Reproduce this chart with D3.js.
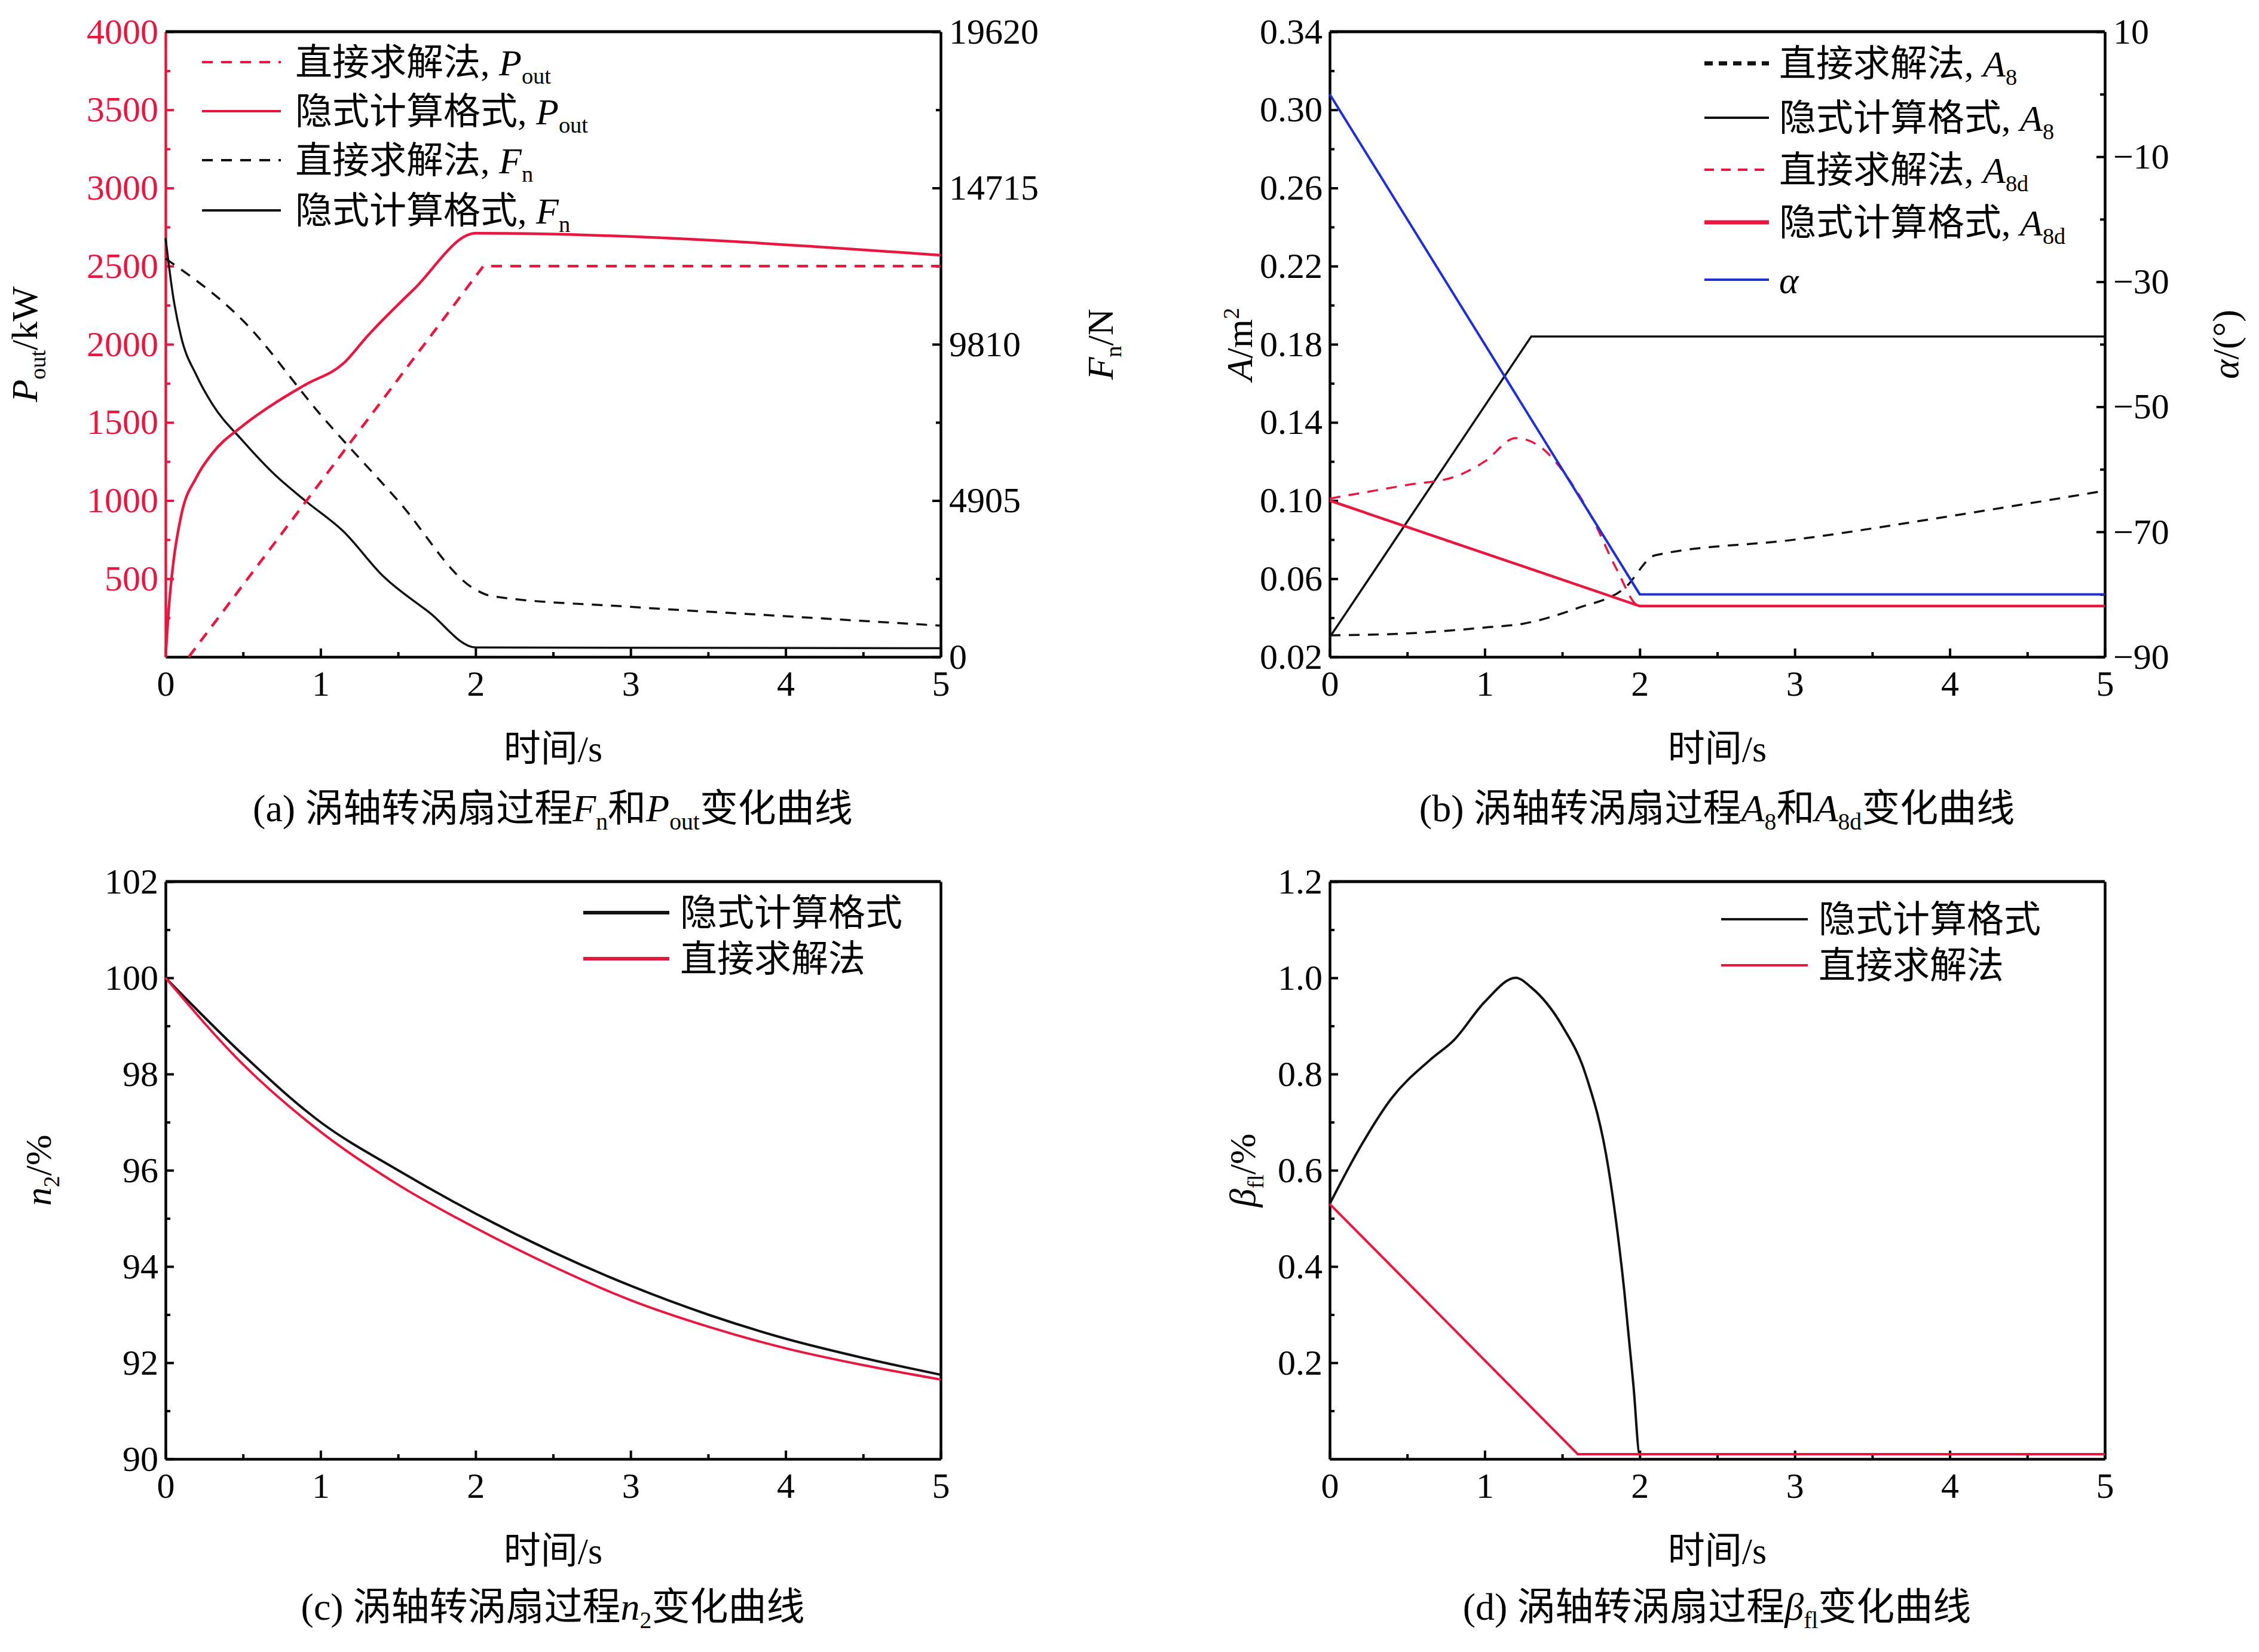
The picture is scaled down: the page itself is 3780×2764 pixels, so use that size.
<!DOCTYPE html>
<html><head><meta charset="utf-8">
<script src="https://cdn.jsdelivr.net/npm/d3@7"></script>
<style>body{margin:0;background:#fff}</style></head>
<body><svg id="c" width="3780" height="2764"></svg>
<script>
// ---------- DATA ----------
const timeTicks=[0,1,2,3,4,5];
// panel a
const aPoutImpT=[0,0.02,0.05,0.1,0.2,0.3,0.5,0.7,0.9,1.15,1.3,1.6,2.0,5];
const aPoutImpV=[0,300,600,900,1150,1300,1480,1620,1740,1880,2050,2350,2710,2570];
const aPoutDirT=[0.15,2.05,5];
const aPoutDirV=[0,2500,2500];
const aFnDirT=[0,0.5,1,1.5,2,2.1,3,4,5];
const aFnDirV=[12500,10550,7600,4900,2110,1910,1570,1275,980];
const aFnImpT=[0,0.05,0.1,0.2,0.3,0.5,0.7,0.9,1.15,1.4,1.7,2.0,5];
const aFnImpV=[13145,11280,10055,8830,7945,6770,5740,4905,3925,2550,1400,295,270];
const aLeftTicks=[500,1000,1500,2000,2500,3000,3500,4000];
const aRightTicks=[0,4905,9810,14715,19620];
// panel b
const bAlphaT=[0,2.0,5], bAlphaV=[0,-80,-80];
const bA8ImpT=[0,1.3,5], bA8ImpV=[0.03,0.184,0.184];
const bA8DirT=[0,0.5,1.0,1.25,1.6,1.9,2.1,3,4,5];
const bA8DirV=[0.031,0.032,0.035,0.037,0.045,0.055,0.072,0.08,0.092,0.105];
const bA8dDirT=[0,0.5,0.8,1.0,1.2,1.35,1.55,1.7,1.85,2.0,5];
const bA8dDirV=[0.101,0.108,0.112,0.12,0.132,0.128,0.11,0.09,0.065,0.046,0.046];
const bA8dImpT=[0,2.0,5], bA8dImpV=[0.100,0.046,0.046];
const bLeftTicks=[0.02,0.06,0.10,0.14,0.18,0.22,0.26,0.30,0.34];
const bRightTicks=[-90,-70,-50,-30,-10,10];
// panel c
const cT=[0,0.5,1,1.5,2,2.5,3,3.5,4,4.5,5];
const cImp=[100,98.4,97.0,96.0,95.1,94.3,93.6,93.0,92.5,92.1,91.75];
const cDir=[100,98.2,96.8,95.7,94.8,94.0,93.3,92.75,92.3,91.95,91.65];
const cTicks=[90,92,94,96,98,100,102];
// panel d
const dImpT=[0,0.2,0.4,0.65,0.8,1.0,1.2,1.3,1.5,1.65,1.8,1.9,1.96,2.0,5];
const dImpV=[0.53,0.65,0.75,0.83,0.87,0.95,1.0,0.98,0.9,0.8,0.6,0.35,0.15,0.01,0.01];
const dDirT=[0,1.6,5], dDirV=[0.53,0.01,0.01];
const dTicks=[0.2,0.4,0.6,0.8,1.0,1.2];

// ---------- DRAW ----------
const svg=d3.select('#c');
const FF="'Liberation Serif','Times New Roman','Noto Sans CJK SC',serif";
const RED='#e8173f';
const TF=60;
function panel(L,R,T,B,ydom,yt,ymin,tickColor,fmt){
  const g=svg.append('g');
  const x=d3.scaleLinear().domain([0,5]).range([L,R]);
  const y=d3.scaleLinear().domain(ydom).range([B,T]);
  const xa=g.append('g').attr('transform',`translate(0,${B})`)
    .call(d3.axisBottom(x).tickValues(timeTicks).tickSizeInner(-14).tickSizeOuter(0).tickPadding(22).tickFormat(d3.format('d')));
  xa.append('g').call(d3.axisBottom(x).tickValues(d3.range(0.5,5,1)).tickSizeInner(-8).tickSizeOuter(0).tickFormat(''));
  const ya=g.append('g').attr('transform',`translate(${L},0)`)
    .call(d3.axisLeft(y).tickValues(yt).tickSizeInner(-14).tickSizeOuter(0).tickPadding(12).tickFormat(fmt));
  ya.append('g').call(d3.axisLeft(y).tickValues(ymin).tickSizeInner(-8).tickSizeOuter(0).tickFormat(''));
  [xa,ya].forEach(a=>{a.selectAll('text').attr('font-family',FF).attr('font-size',TF).attr('fill','#000');
    a.selectAll('path,line').attr('stroke','#000').attr('stroke-width',4);});
  if(tickColor){ya.selectAll('text').attr('fill',tickColor);ya.selectAll('path,line').attr('stroke',tickColor);}
  g.append('line').attr('x1',L).attr('x2',R).attr('y1',T).attr('y2',T).attr('stroke','#000').attr('stroke-width',5);
  g.append('text').attr('x',(L+R)/2).attr('y',B+175).attr('text-anchor','middle').attr('font-family',FF).attr('font-size',62).text('时间/s');
  return {g,x,y};
}
function line(p,ts,vs,yS,color,w,dash,curve){
  const d=ts.map((t,i)=>[t,vs[i]]);
  p.g.append('path').datum(d).attr('fill','none').attr('stroke',color).attr('stroke-width',w)
   .attr('stroke-dasharray',dash||null)
   .attr('d',d3.line().x(q=>p.x(q[0])).y(q=>yS(q[1])).curve(curve||d3.curveLinear));
}
function rich(g,x,y,parts,size,anchor,rot){
  const t=g.append('text').attr('x',x).attr('y',y).attr('font-family',FF).attr('font-size',size)
    .attr('text-anchor',anchor||'start');
  if(rot) t.attr('transform',`rotate(${rot},${x},${y})`);
  parts.forEach(p=>{
    const s=t.append('tspan').text(p.t);
    if(p.i) s.attr('font-style','italic');
    if(p.sub) s.attr('font-size',size*0.62).attr('dy',size*0.22);
    if(p.sup) s.attr('font-size',size*0.62).attr('dy',-size*0.35);
    if(p.back) s.attr('dy',p.back);
  });
  return t;
}
function legend(g,x0,x1,tx,y,color,w,dash,parts){
  g.append('line').attr('x1',x0).attr('x2',x1).attr('y1',y).attr('y2',y).attr('stroke',color).attr('stroke-width',w).attr('stroke-dasharray',dash||null);
  rich(g,tx,y+22,parts,62);
}
function rightAxis(p,R,T,B,dom,ticks,minors){
  const yr=d3.scaleLinear().domain(dom).range([B,T]);
  const a=p.g.append('g').attr('transform',`translate(${R},0)`)
    .call(d3.axisRight(yr).tickValues(ticks).tickSizeInner(-14).tickSizeOuter(0).tickPadding(14).tickFormat(d=>d<0?'\u2212'+(-d):d));
  a.append('g').call(d3.axisRight(yr).tickValues(minors).tickSizeInner(-8).tickSizeOuter(0).tickFormat(''));
  a.selectAll('text').attr('font-family',FF).attr('font-size',TF).attr('fill','#000');
  a.selectAll('path,line').attr('stroke','#000').attr('stroke-width',4);
  return yr;
}
const mono=d3.curveMonotoneX;
// Panel a
{
 const L=277,R=1574,T=53,B=1099;
 const p=panel(L,R,T,B,[0,4000],aLeftTicks,[250,750,1250,1750,2250,2750,3250,3750],RED,d3.format('d'));
 const yr=rightAxis(p,R,T,B,[0,19620],aRightTicks,[2452.5,7357.5,12262.5,17167.5]);
 line(p,aFnImpT,aFnImpV,yr,'#111',3.5,null,mono);
 line(p,aFnDirT,aFnDirV,yr,'#111',3.5,'18,14',mono);
 line(p,aPoutDirT,aPoutDirV,p.y,RED,4.5,'18,14');
 line(p,aPoutImpT,aPoutImpV,p.y,RED,4.5,null,mono);
 legend(p.g,338,470,494,104,RED,4,'18,14',[{t:'直接求解法, '},{t:'P',i:1},{t:'out',sub:1}]);
 legend(p.g,338,470,494,186,RED,4,null,[{t:'隐式计算格式, '},{t:'P',i:1},{t:'out',sub:1}]);
 legend(p.g,338,470,494,268,'#111',4,'18,14',[{t:'直接求解法, '},{t:'F',i:1},{t:'n',sub:1}]);
 legend(p.g,338,470,494,352,'#111',4,null,[{t:'隐式计算格式, '},{t:'F',i:1},{t:'n',sub:1}]);
 rich(p.g,62,576,[{t:'P',i:1},{t:'out',sub:1},{t:'/kW',back:-14}],62,'middle',-90);
 rich(p.g,1862,576,[{t:'F',i:1},{t:'n',sub:1},{t:'/N',back:-14}],62,'middle',-90);
 rich(p.g,925,1374,[{t:'(a) 涡轴转涡扇过程'},{t:'F',i:1},{t:'n',sub:1},{t:'和',back:-14},{t:'P',i:1},{t:'out',sub:1},{t:'变化曲线',back:-14}],64,'middle');
}
// Panel b
{
 const L=2225,R=3522,T=53,B=1099;
 const p=panel(L,R,T,B,[0.02,0.34],bLeftTicks,d3.range(0.04,0.34,0.04),null,d=>d.toFixed(2));
 const yr=rightAxis(p,R,T,B,[-90,10],bRightTicks,[-80,-60,-40,-20,0]);
 line(p,bA8ImpT,bA8ImpV,p.y,'#111',3.5);
 line(p,bA8DirT,bA8DirV,p.y,'#111',3.5,'18,14',mono);
 line(p,bA8dImpT,bA8dImpV,p.y,RED,4.5);
 line(p,bA8dDirT,bA8dDirV,p.y,RED,3.5,'18,14',mono);
 line(p,bAlphaT,bAlphaV,yr,'#1f2fd6',4);
 legend(p.g,2852,2960,2977,106,'#111',7,'14,10',[{t:'直接求解法, '},{t:'A',i:1},{t:'8',sub:1}]);
 legend(p.g,2852,2960,2977,197,'#111',4,null,[{t:'隐式计算格式, '},{t:'A',i:1},{t:'8',sub:1}]);
 legend(p.g,2852,2960,2977,284,RED,4,'16,12',[{t:'直接求解法, '},{t:'A',i:1},{t:'8d',sub:1}]);
 legend(p.g,2852,2960,2977,372,RED,7,null,[{t:'隐式计算格式, '},{t:'A',i:1},{t:'8d',sub:1}]);
 legend(p.g,2852,2960,2977,468,'#1f2fd6',4,null,[{t:'α',i:1}]);
 rich(p.g,2095,576,[{t:'A',i:1},{t:'/m'},{t:'2',sup:1}],62,'middle',-90);
 rich(p.g,3745,576,[{t:'α',i:1},{t:'/(°)'}],62,'middle',-90);
 rich(p.g,2873,1374,[{t:'(b) 涡轴转涡扇过程'},{t:'A',i:1},{t:'8',sub:1},{t:'和',back:-14},{t:'A',i:1},{t:'8d',sub:1},{t:'变化曲线',back:-14}],64,'middle');
}
// Panel c
{
 const L=277,R=1574,T=1475,B=2441;
 const p=panel(L,R,T,B,[90,102],cTicks,d3.range(91,102,2),null,d3.format('d'));
 rightAxis(p,R,T,B,[90,102],[],[]);
 line(p,cT,cImp,p.y,'#111',4,null,mono);
 line(p,cT,cDir,p.y,RED,4,null,mono);
 legend(p.g,976,1120,1138,1527,'#111',6,null,[{t:'隐式计算格式'}]);
 legend(p.g,976,1120,1138,1604,RED,6,null,[{t:'直接求解法'}]);
 rich(p.g,85,1958,[{t:'n',i:1},{t:'2',sub:1},{t:'/%',back:-14}],62,'middle',-90);
 rich(p.g,925,2710,[{t:'(c) 涡轴转涡扇过程'},{t:'n',i:1},{t:'2',sub:1},{t:'变化曲线',back:-14}],64,'middle');
}
// Panel d
{
 const L=2225,R=3522,T=1475,B=2441;
 const p=panel(L,R,T,B,[0,1.2],dTicks,d3.range(0.1,1.2,0.2),null,d=>d.toFixed(1));
 rightAxis(p,R,T,B,[0,1.2],[],[]);
 line(p,dImpT,dImpV,p.y,'#111',4,null,mono);
 line(p,dDirT,dDirV,p.y,RED,4);
 legend(p.g,2880,3025,3043,1538,'#111',4,null,[{t:'隐式计算格式'}]);
 legend(p.g,2880,3025,3043,1615,RED,4,null,[{t:'直接求解法'}]);
 rich(p.g,2100,1958,[{t:'β',i:1},{t:'fl',sub:1},{t:'/%',back:-14}],62,'middle',-90);
 rich(p.g,2873,2710,[{t:'(d) 涡轴转涡扇过程'},{t:'β',i:1},{t:'fl',sub:1},{t:'变化曲线',back:-14}],64,'middle');
}
</script></body></html>
